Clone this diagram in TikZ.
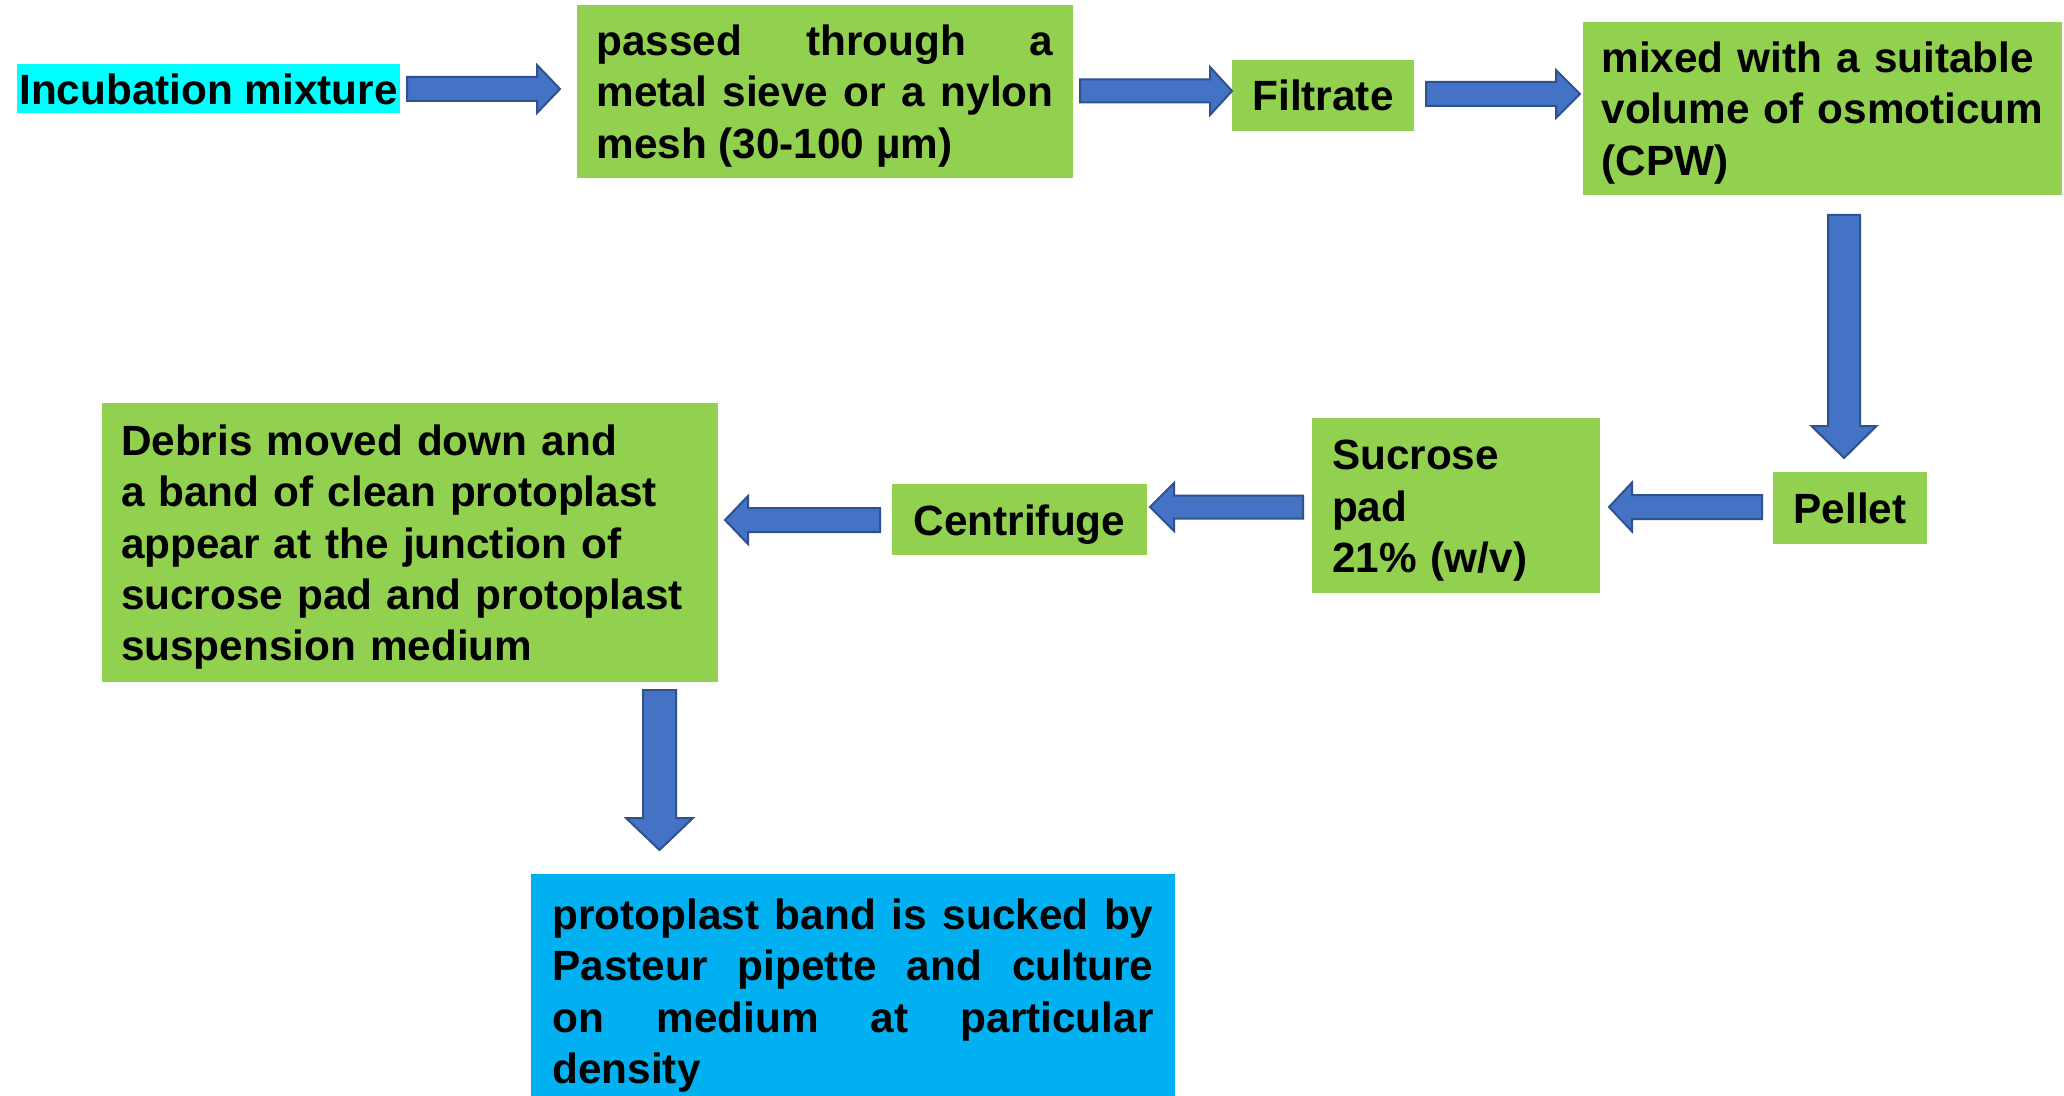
\documentclass[tikz,border=0pt]{standalone}
\usepackage{fontspec}
\setmainfont{Liberation Sans}
\definecolor{boxgreen}{HTML}{92D050}
\definecolor{boxcyan}{HTML}{00FFFF}
\definecolor{boxblue}{HTML}{00B0F0}
\definecolor{arrowblue}{HTML}{4472C4}
\definecolor{arrowedge}{HTML}{2F528F}
\hbadness=10000 \tolerance=10000 \hyphenpenalty=10000
\newcommand{\topstrut}{\rule{0pt}{20pt}}
\newcommand{\botstrut}{\rule[-4.5pt]{0pt}{4.5pt}}
\newcommand{\HArrow}[6]{% tail, headbase, tip, y, shaft half, head half
  \draw[blockarrow] (#1,#4-#5) -- (#2,#4-#5) -- (#2,#4-#6) -- (#3,#4) -- (#2,#4+#6) -- (#2,#4+#5) -- (#1,#4+#5) -- cycle;}
\newcommand{\VArrow}[6]{% tail, headbase, tip, x, shaft half, head half
  \draw[blockarrow] (#4-#5,#1) -- (#4-#5,#2) -- (#4-#6,#2) -- (#4,#3) -- (#4+#6,#2) -- (#4+#5,#2) -- (#4+#5,#1) -- cycle;}
\begin{document}
\begin{tikzpicture}[x=0.5pt,y=-0.5pt,
  txt/.style={font=\fontsize{21.15pt}{25.65pt}\selectfont\bfseries, inner sep=0pt, text=black},
  oneline/.style={text height=20pt, text depth=4.5pt},
  gbox/.style={txt, fill=boxgreen},
  blockarrow/.style={fill=arrowblue, draw=arrowedge, line width=1pt, line join=miter}]
\useasboundingbox (0,0) rectangle (2064,1096);
\fill[white] (0,0) rectangle (2064,1096);

\node[txt, oneline, fill=boxcyan, minimum width=191.5pt, minimum height=24pt] (inc) at (208.5,89) {Incubation mixture};
\node[gbox, minimum width=248pt, minimum height=86.5pt, text width=228.5pt, align=justify] (sieve) at (825,91.5)
  {\topstrut passed through a\linebreak metal sieve or a nylon\linebreak mesh (30-100 µm)\botstrut};
\node[gbox, oneline, minimum width=91pt, minimum height=35.5pt] (filt) at (1323,95.5) {Filtrate};
\node[gbox, minimum width=239.5pt, minimum height=86.5pt, text width=221pt, align=left] (mixed) at (1822.5,108.5)
  {\topstrut mixed with a suitable\\volume of osmoticum\\(CPW)\botstrut};
\node[gbox, oneline, minimum width=77pt, minimum height=36pt] (pellet) at (1850,507.5) {Pellet};
\node[gbox, minimum width=144pt, minimum height=87.5pt, text width=124pt, align=left] (sucrose) at (1456,505.5)
  {\topstrut Sucrose\\pad\\21\% (w/v)\botstrut};
\node[gbox, oneline, minimum width=127.5pt, minimum height=35.5pt] (centri) at (1019.5,519.5) {Centrifuge};
\node[gbox, minimum width=308pt, minimum height=139.5pt, text width=289pt, align=left] (debris) at (410,542.5)
  {\topstrut Debris moved down and\\a band of clean protoplast\\appear at the junction of\\sucrose pad and protoplast\\suspension medium\botstrut};
\node[txt, fill=boxblue, minimum width=322pt, minimum height=117pt, text width=300.5pt, align=justify] (final) at (853,991)
  {\topstrut protoplast band is sucked by\linebreak Pasteur pipette and culture\linebreak on medium at particular\linebreak density\botstrut};

\HArrow{407}{537}{560}{89}{12}{24}
\HArrow{1080}{1210}{1232}{91}{11.5}{24}
\HArrow{1426}{1556}{1580}{94}{12}{24}
\VArrow{215}{426}{458}{1844}{16}{32.5}
\HArrow{1762}{1632}{1609}{507}{12}{24.5}
\HArrow{1303}{1174}{1150}{507}{11.5}{24}
\HArrow{880}{748}{725}{520}{12}{24}
\VArrow{690}{818}{850}{659.5}{16.5}{33.5}
\end{tikzpicture}
\end{document}
